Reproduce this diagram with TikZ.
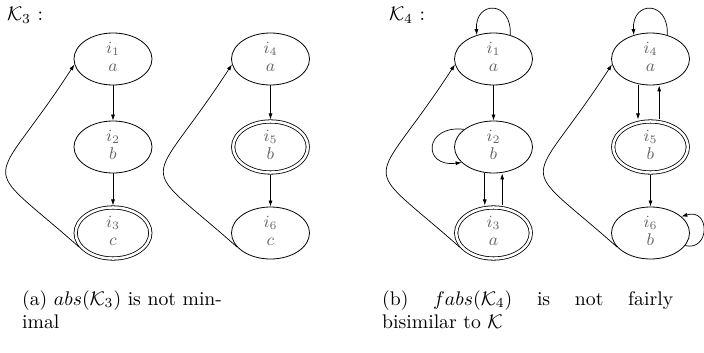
\documentclass[tikz,border=0pt]{standalone}
\usepackage{graphicx}
\usetikzlibrary{shapes.geometric,arrows.meta}
\newcommand\sxbig[1]{\scalebox{1.97}{\fontsize{10}{12}\selectfont #1}}
\newcommand\nodetxt[2]{\scalebox{1.9}{\fontsize{9}{9.5}\selectfont$\begin{array}{@{}c@{}}#1\\#2\end{array}$}}
\begin{document}
\begin{tikzpicture}[x=1pt,y=-1pt,
  st/.style={ellipse, draw, line width=0.8pt, minimum width=78pt, minimum height=52pt,
    inner sep=0pt, text=black!60},
  acc/.style={st, double, double distance=2.5pt, minimum width=74.7pt, minimum height=48.7pt, outer sep=2pt},
  tr/.style={-{Latex[length=6pt,width=4pt]}, line width=0.7pt},
  lab/.style={anchor=base west, inner sep=0pt}
]
\useasboundingbox (0,0) rectangle (704,353);

% labels
\node[lab] (k3) at (7,21) {\sxbig{$\mathcal{K}_3$ :}};
\node[lab] (k4) at (389,21) {\sxbig{$\mathcal{K}_4$ :}};

% left panel
\node[st]  (a1) at (113,59)  {\nodetxt{i_1}{a}};
\node[st]  (a2) at (113,147) {\nodetxt{i_2}{b}};
\node[acc] (a3) at (113,233) {\nodetxt{i_3}{c}};
\node[st]  (a4) at (270.5,59)  {\nodetxt{i_4}{a}};
\node[acc] (a5) at (270.5,147) {\nodetxt{i_5}{b}};
\node[st]  (a6) at (270.5,233) {\nodetxt{i_6}{c}};

\draw[tr] (a1) -- (a2);
\draw[tr] (a2) -- (a3);
\draw[tr] (a3.203) .. controls +(-104,-92) and +(-85,131) .. (a1.188);
\draw[tr] (a4) -- (a5);
\draw[tr] (a5) -- (a6);
\draw[tr] (a6.203) .. controls +(-104,-92) and +(-85,131) .. (a4.188);

% right panel
\node[st]  (b1) at (493.5,59)  {\nodetxt{i_1}{a}};
\node[st]  (b2) at (493.5,147) {\nodetxt{i_2}{b}};
\node[acc] (b3) at (493.5,233) {\nodetxt{i_3}{a}};
\node[st]  (b4) at (650.5,59)  {\nodetxt{i_4}{a}};
\node[acc] (b5) at (650.5,147) {\nodetxt{i_5}{b}};
\node[st]  (b6) at (650.5,233) {\nodetxt{i_6}{b}};

\draw[tr] (b1.55) .. controls +(2,-35) and +(-2,-35) .. (b1.125);
\draw[tr] (b1) -- (b2);
\draw[tr] (b2.149) .. controls +(-40,-5) and +(-40,5) .. (b2.206);
\draw[tr] ([xshift=-8.7pt]b2.south) -- ([xshift=-8.7pt]b3.north);
\draw[tr] ([xshift=8.7pt]b3.north) -- ([xshift=8.7pt]b2.south);
\draw[tr] (b3.203) .. controls +(-104,-92) and +(-85,131) .. (b1.188);

\draw[tr] (b4.55) .. controls +(2,-35) and +(-2,-35) .. (b4.125);
\draw[tr] ([xshift=-12.5pt]b4.south) -- ([xshift=-12.5pt]b5.north);
\draw[tr] ([xshift=8.7pt]b5.north) -- ([xshift=8.7pt]b4.south);
\draw[tr] (b5) -- (b6);
\draw[tr] (b6.-20) .. controls +(25,6) and +(29,-9) .. (b6.28);
\draw[tr] (b6.203) .. controls +(-104,-92) and +(-85,131) .. (b4.188);

% captions
\node[lab] (ca1) at (22,305) {\sxbig{(a) $abs(\mathcal{K}_3)$ is not min-}};
\node[lab] (ca2) at (22,328) {\sxbig{imal}};
\node[lab] (cb1) at (382,305) {\sxbig{\makebox[147.7pt][s]{(b) $fabs(\mathcal{K}_4)$ is not fairly}}};
\node[lab] (cb2) at (382,328) {\sxbig{bisimilar to $\mathcal{K}$}};
\end{tikzpicture}
\end{document}
